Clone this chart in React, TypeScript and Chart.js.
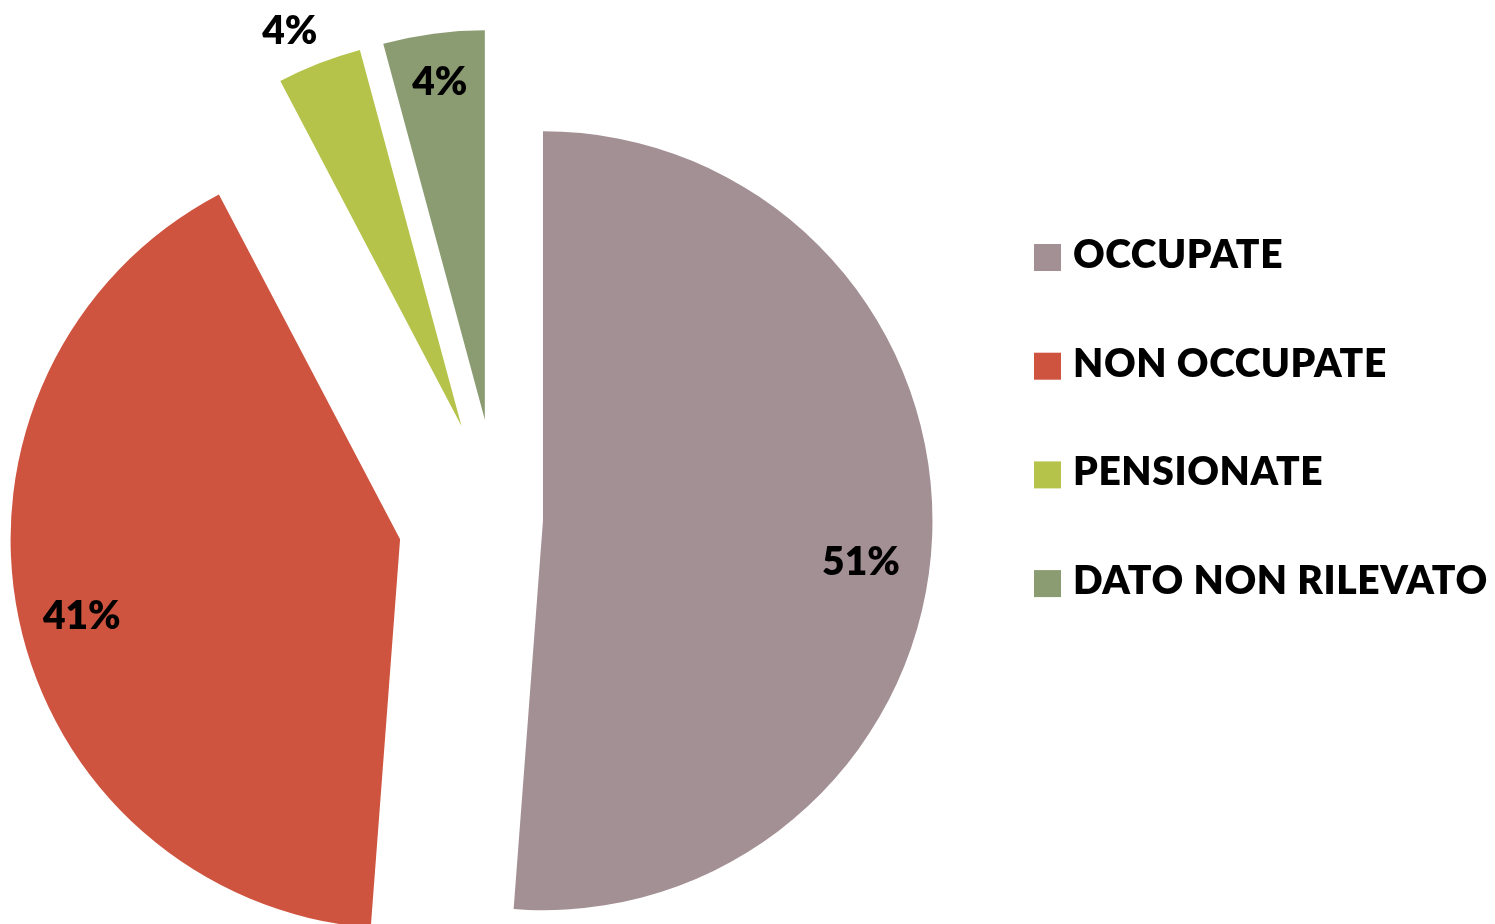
import React, { useEffect, useRef } from "react";
import { Chart, registerables } from "chart.js";

Chart.register(...registerables);

// ---- data ----
const CATEGORIES = ["OCCUPATE", "NON OCCUPATE", "PENSIONATE", "DATO NON RILEVATO"];
const VALUES = [51.2, 41.1, 3.5, 4.2];
const COLORS = ["#A39095", "#CF543F", "#B5C34A", "#8B9C72"];

// ---- styling / placement (not data) ----
const EXPLODE = [45, 100, 100, 100]; // px each slice is pulled out along its mid-angle
const LABEL_RADIUS = [0.823, 0.84, 1.109, 0.879]; // fraction of radius
const LABEL_ANGLE_SHIFT = [5.1, -1.7, -2.0, 0]; // degrees
const FONT_FAMILY = "Lato, 'Open Sans', sans-serif";
const FONT_WEIGHT = 800;
const FONT_SIZE = 39;
const PIE_RADIUS = 389.5;

const LEGEND_OFFSET_X = 38; // from chart area right edge
const LEGEND_TOP = 244;
const LEGEND_BOX = 27;
const LEGEND_GAP = 12;
const LEGEND_ROW = 108.7;
const LEGEND_LETTER_SPACING = "0.6px";

const explodePlugin = {
  id: "explodeSlices",
  afterDatasetsUpdate(chart: any) {
    const meta = chart.getDatasetMeta(0);
    meta.data.forEach((arc: any, i: number) => {
      const mid = (arc.startAngle + arc.endAngle) / 2;
      const d = EXPLODE[i] || 0;
      arc.x += Math.cos(mid) * d;
      arc.y += Math.sin(mid) * d;
    });
  },
};

const labelPlugin = {
  id: "sliceLabels",
  afterDatasetsDraw(chart: any) {
    const ctx = chart.ctx;
    const meta = chart.getDatasetMeta(0);
    const total = VALUES.reduce((a, b) => a + b, 0);
    ctx.save();
    ctx.font = `${FONT_WEIGHT} ${FONT_SIZE}px ${FONT_FAMILY}`;
    ctx.fillStyle = "#000000";
    ctx.textAlign = "center";
    ctx.textBaseline = "alphabetic";
    meta.data.forEach((arc: any, i: number) => {
      const mid = (arc.startAngle + arc.endAngle) / 2 + (LABEL_ANGLE_SHIFT[i] * Math.PI) / 180;
      const r = arc.outerRadius * LABEL_RADIUS[i];
      const x = arc.x + Math.cos(mid) * r;
      const y = arc.y + Math.sin(mid) * r;
      const pct = Math.round((VALUES[i] * 100) / total + 1e-9);
      ctx.fillText(pct + "%", x, y + FONT_SIZE * 0.36);
    });
    ctx.restore();
  },
};

const legendPlugin = {
  id: "sideLegend",
  afterDraw(chart: any) {
    const ctx = chart.ctx;
    const x0 = chart.chartArea.right + LEGEND_OFFSET_X;
    ctx.save();
    ctx.font = `${FONT_WEIGHT} ${FONT_SIZE}px ${FONT_FAMILY}`;
    ctx.textAlign = "left";
    ctx.textBaseline = "alphabetic";
    try {
      (ctx as any).letterSpacing = LEGEND_LETTER_SPACING;
    } catch (e) {
      /* ignore */
    }
    CATEGORIES.forEach((label, i) => {
      const top = LEGEND_TOP + i * LEGEND_ROW;
      ctx.fillStyle = COLORS[i];
      ctx.fillRect(x0, top, LEGEND_BOX, LEGEND_BOX);
      ctx.fillStyle = "#000000";
      ctx.fillText(label, x0 + LEGEND_BOX + LEGEND_GAP, top + 24);
    });
    ctx.restore();
  },
};

export default function App() {
  const canvasRef = useRef<HTMLCanvasElement | null>(null);

  useEffect(() => {
    if (!canvasRef.current) return;
    const chart = new Chart(canvasRef.current, {
      type: "pie",
      data: {
        labels: CATEGORIES,
        datasets: [
          {
            data: VALUES,
            backgroundColor: COLORS,
            borderWidth: 0,
            radius: PIE_RADIUS,
            clip: false,
          } as any,
        ],
      },
      options: {
        animation: false,
        responsive: false,
        events: [],
        layout: { padding: { left: 0, right: 499, top: 114, bottom: 0 } },
        plugins: {
          legend: { display: false },
          tooltip: { enabled: false },
        },
      },
      plugins: [explodePlugin, labelPlugin, legendPlugin],
    });
    return () => chart.destroy();
  }, []);

  return (
    <div style={{ position: "fixed", left: 0, top: 0, width: 1495, height: 924, background: "#ffffff" }}>
      <canvas ref={canvasRef} width={1495} height={924} style={{ display: "block" }} />
    </div>
  );
}
